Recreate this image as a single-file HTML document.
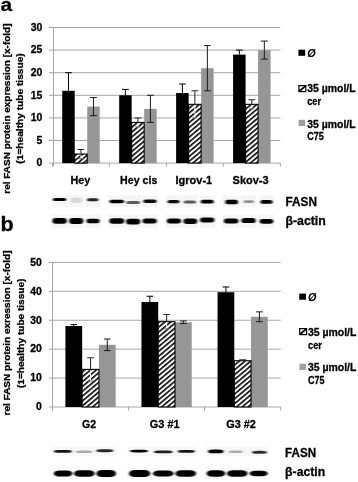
<!DOCTYPE html>
<html><head><meta charset="utf-8"><title>Figure</title>
<style>html,body{margin:0;padding:0;background:#fff}svg{display:block}text{stroke:#000;stroke-width:0.3px;stroke-linejoin:round}</style></head>
<body>
<svg width="358" height="482" viewBox="0 0 358 482" font-family="Liberation Sans, sans-serif" font-weight="bold" fill="#000">
<defs>
<pattern id="hatch" width="3.42" height="3.42" patternUnits="userSpaceOnUse" patternTransform="scale(1.19 1) rotate(-45)">
<rect width="3.42" height="3.42" fill="#fff"/><rect width="3.42" height="1.45" fill="#000"/>
</pattern>
<filter id="b1" x="-20%" y="-100%" width="140%" height="300%"><feGaussianBlur stdDeviation="0.8 0.55"/></filter>
<filter id="b2" x="-20%" y="-100%" width="140%" height="300%"><feGaussianBlur stdDeviation="0.9 0.65"/></filter>
</defs>
<rect width="358" height="482" fill="#fff"/>
<text x="0.6" y="11.2" font-size="18" text-anchor="start" textLength="11.6" lengthAdjust="spacingAndGlyphs" >a</text>
<text x="0.4" y="231.0" font-size="20" text-anchor="start" textLength="13.1" lengthAdjust="spacingAndGlyphs" >b</text>
<line x1="49.0" y1="163.10" x2="280.3" y2="163.10" stroke="#a6a6a6" stroke-width="1"/>
<text x="42.3" y="166.38" font-size="10.1" text-anchor="end" textLength="5.8" lengthAdjust="spacingAndGlyphs" >0</text>
<line x1="49.0" y1="140.50" x2="280.3" y2="140.50" stroke="#a6a6a6" stroke-width="1"/>
<text x="42.3" y="143.78" font-size="10.1" text-anchor="end" textLength="5.8" lengthAdjust="spacingAndGlyphs" >5</text>
<line x1="49.0" y1="117.90" x2="280.3" y2="117.90" stroke="#a6a6a6" stroke-width="1"/>
<text x="42.3" y="121.18" font-size="10.1" text-anchor="end" textLength="11.6" lengthAdjust="spacingAndGlyphs" >10</text>
<line x1="49.0" y1="95.30" x2="280.3" y2="95.30" stroke="#a6a6a6" stroke-width="1"/>
<text x="42.3" y="98.58" font-size="10.1" text-anchor="end" textLength="11.6" lengthAdjust="spacingAndGlyphs" >15</text>
<line x1="49.0" y1="72.70" x2="280.3" y2="72.70" stroke="#a6a6a6" stroke-width="1"/>
<text x="42.3" y="75.98" font-size="10.1" text-anchor="end" textLength="11.6" lengthAdjust="spacingAndGlyphs" >20</text>
<line x1="49.0" y1="50.10" x2="280.3" y2="50.10" stroke="#a6a6a6" stroke-width="1"/>
<text x="42.3" y="53.38" font-size="10.1" text-anchor="end" textLength="11.6" lengthAdjust="spacingAndGlyphs" >25</text>
<line x1="49.0" y1="27.50" x2="280.3" y2="27.50" stroke="#a6a6a6" stroke-width="1"/>
<text x="42.3" y="30.78" font-size="10.1" text-anchor="end" textLength="11.6" lengthAdjust="spacingAndGlyphs" >30</text>
<line x1="53.5" y1="27.5" x2="53.5" y2="166.6" stroke="#a6a6a6" stroke-width="1"/>
<line x1="52.50" y1="163.1" x2="52.50" y2="166.6" stroke="#a6a6a6" stroke-width="1"/>
<line x1="109.45" y1="163.1" x2="109.45" y2="166.6" stroke="#a6a6a6" stroke-width="1"/>
<line x1="166.40" y1="163.1" x2="166.40" y2="166.6" stroke="#a6a6a6" stroke-width="1"/>
<line x1="223.35" y1="163.1" x2="223.35" y2="166.6" stroke="#a6a6a6" stroke-width="1"/>
<line x1="280.30" y1="163.1" x2="280.30" y2="166.6" stroke="#a6a6a6" stroke-width="1"/>
<rect x="62.22" y="90.78" width="12.50" height="72.32" fill="#000"/>
<path d="M68.47 72.70V90.78M65.07 72.70H71.88" stroke="#000" stroke-width="1.0" fill="none"/>
<rect x="87.22" y="106.60" width="12.50" height="56.50" fill="#969696"/>
<path d="M93.47 97.56V115.64M90.07 97.56H96.88M90.07 115.64H96.88" stroke="#1c1c1c" stroke-width="1.0" fill="none"/>
<rect x="74.72" y="154.06" width="12.50" height="9.04" fill="url(#hatch)" stroke="#000" stroke-width="1.1"/>
<path d="M80.97 149.54V154.06M77.57 149.54H84.38" stroke="#2a2a2a" stroke-width="1.05" fill="none"/>
<path d="M80.97 154.86V158.58" stroke="#fff" stroke-width="1.0" fill="none"/>
<path d="M78.37 158.58H83.58" stroke="#777" stroke-width="1.0" fill="none"/>
<rect x="119.18" y="95.30" width="12.50" height="67.80" fill="#000"/>
<path d="M125.43 89.42V95.30M122.03 89.42H128.83" stroke="#000" stroke-width="1.0" fill="none"/>
<rect x="144.18" y="108.86" width="12.50" height="54.24" fill="#969696"/>
<path d="M150.43 95.30V122.42M147.03 95.30H153.83M147.03 122.42H153.83" stroke="#1c1c1c" stroke-width="1.0" fill="none"/>
<rect x="131.68" y="122.42" width="12.50" height="40.68" fill="url(#hatch)" stroke="#000" stroke-width="1.1"/>
<path d="M137.93 117.90V122.42M134.53 117.90H141.33" stroke="#2a2a2a" stroke-width="1.05" fill="none"/>
<path d="M137.93 123.22V126.94" stroke="#fff" stroke-width="1.0" fill="none"/>
<path d="M135.33 126.94H140.53" stroke="#777" stroke-width="1.0" fill="none"/>
<rect x="176.12" y="93.04" width="12.50" height="70.06" fill="#000"/>
<path d="M182.38 84.00V93.04M178.97 84.00H185.78" stroke="#000" stroke-width="1.0" fill="none"/>
<rect x="201.12" y="68.18" width="12.50" height="94.92" fill="#969696"/>
<path d="M207.38 45.58V90.78M203.97 45.58H210.78M203.97 90.78H210.78" stroke="#1c1c1c" stroke-width="1.0" fill="none"/>
<rect x="188.62" y="104.34" width="12.50" height="58.76" fill="url(#hatch)" stroke="#000" stroke-width="1.1"/>
<path d="M194.88 90.78V104.34M191.47 90.78H198.28" stroke="#2a2a2a" stroke-width="1.05" fill="none"/>
<path d="M194.88 105.14V117.90" stroke="#fff" stroke-width="1.0" fill="none"/>
<path d="M192.28 117.90H197.47" stroke="#777" stroke-width="1.0" fill="none"/>
<rect x="233.08" y="54.62" width="12.50" height="108.48" fill="#000"/>
<path d="M239.33 50.10V54.62M235.93 50.10H242.73" stroke="#000" stroke-width="1.0" fill="none"/>
<rect x="258.08" y="50.10" width="12.50" height="113.00" fill="#969696"/>
<path d="M264.33 41.06V59.14M260.93 41.06H267.73M260.93 59.14H267.73" stroke="#1c1c1c" stroke-width="1.0" fill="none"/>
<rect x="245.58" y="104.34" width="12.50" height="58.76" fill="url(#hatch)" stroke="#000" stroke-width="1.1"/>
<path d="M251.83 99.82V104.34M248.43 99.82H255.23" stroke="#2a2a2a" stroke-width="1.05" fill="none"/>
<path d="M251.83 105.14V108.86" stroke="#fff" stroke-width="1.0" fill="none"/>
<path d="M249.23 108.86H254.43" stroke="#777" stroke-width="1.0" fill="none"/>
<line x1="49.0" y1="407.00" x2="280.7" y2="407.00" stroke="#a6a6a6" stroke-width="1"/>
<text x="41.8" y="410.28" font-size="10.1" text-anchor="end" textLength="5.8" lengthAdjust="spacingAndGlyphs" >0</text>
<line x1="49.0" y1="378.08" x2="280.7" y2="378.08" stroke="#a6a6a6" stroke-width="1"/>
<text x="41.8" y="381.36" font-size="10.1" text-anchor="end" textLength="11.6" lengthAdjust="spacingAndGlyphs" >10</text>
<line x1="49.0" y1="349.16" x2="280.7" y2="349.16" stroke="#a6a6a6" stroke-width="1"/>
<text x="41.8" y="352.44" font-size="10.1" text-anchor="end" textLength="11.6" lengthAdjust="spacingAndGlyphs" >20</text>
<line x1="49.0" y1="320.24" x2="280.7" y2="320.24" stroke="#a6a6a6" stroke-width="1"/>
<text x="41.8" y="323.52" font-size="10.1" text-anchor="end" textLength="11.6" lengthAdjust="spacingAndGlyphs" >30</text>
<line x1="49.0" y1="291.32" x2="280.7" y2="291.32" stroke="#a6a6a6" stroke-width="1"/>
<text x="41.8" y="294.6" font-size="10.1" text-anchor="end" textLength="11.6" lengthAdjust="spacingAndGlyphs" >40</text>
<line x1="49.0" y1="262.40" x2="280.7" y2="262.40" stroke="#a6a6a6" stroke-width="1"/>
<text x="41.8" y="265.68" font-size="10.1" text-anchor="end" textLength="11.6" lengthAdjust="spacingAndGlyphs" >50</text>
<line x1="52.5" y1="262.4" x2="52.5" y2="410.5" stroke="#a6a6a6" stroke-width="1"/>
<line x1="52.50" y1="407.0" x2="52.50" y2="410.5" stroke="#a6a6a6" stroke-width="1"/>
<line x1="128.57" y1="407.0" x2="128.57" y2="410.5" stroke="#a6a6a6" stroke-width="1"/>
<line x1="204.63" y1="407.0" x2="204.63" y2="410.5" stroke="#a6a6a6" stroke-width="1"/>
<line x1="280.70" y1="407.0" x2="280.70" y2="410.5" stroke="#a6a6a6" stroke-width="1"/>
<rect x="65.41" y="326.02" width="16.75" height="80.98" fill="#000"/>
<path d="M73.78 324.58V326.02M70.38 324.58H77.18" stroke="#000" stroke-width="1.0" fill="none"/>
<rect x="98.91" y="344.82" width="16.75" height="62.18" fill="#969696"/>
<path d="M107.28 339.04V350.61M103.88 339.04H110.68M103.88 350.61H110.68" stroke="#1c1c1c" stroke-width="1.0" fill="none"/>
<rect x="82.16" y="369.40" width="16.75" height="37.60" fill="url(#hatch)" stroke="#000" stroke-width="1.1"/>
<path d="M90.53 357.84V369.40M87.13 357.84H93.93" stroke="#2a2a2a" stroke-width="1.05" fill="none"/>
<path d="M90.53 370.20V380.97" stroke="#fff" stroke-width="1.0" fill="none"/>
<path d="M87.93 380.97H93.13" stroke="#777" stroke-width="1.0" fill="none"/>
<rect x="141.47" y="302.02" width="16.75" height="104.98" fill="#000"/>
<path d="M149.85 296.24V302.02M146.45 296.24H153.25" stroke="#000" stroke-width="1.0" fill="none"/>
<rect x="174.97" y="322.26" width="16.75" height="84.74" fill="#969696"/>
<path d="M183.35 320.96V323.57M179.95 320.96H186.75M179.95 323.57H186.75" stroke="#1c1c1c" stroke-width="1.0" fill="none"/>
<rect x="158.22" y="321.69" width="16.75" height="85.31" fill="url(#hatch)" stroke="#000" stroke-width="1.1"/>
<path d="M166.60 314.46V321.69M163.20 314.46H170.00" stroke="#2a2a2a" stroke-width="1.05" fill="none"/>
<path d="M166.60 322.49V328.92" stroke="#fff" stroke-width="1.0" fill="none"/>
<path d="M164.00 328.92H169.20" stroke="#777" stroke-width="1.0" fill="none"/>
<rect x="217.54" y="292.19" width="16.75" height="114.81" fill="#000"/>
<path d="M225.92 286.98V292.19M222.52 286.98H229.32" stroke="#000" stroke-width="1.0" fill="none"/>
<rect x="251.04" y="316.77" width="16.75" height="90.23" fill="#969696"/>
<path d="M259.42 311.85V321.69M256.02 311.85H262.82M256.02 321.69H262.82" stroke="#1c1c1c" stroke-width="1.0" fill="none"/>
<rect x="234.29" y="360.73" width="16.75" height="46.27" fill="url(#hatch)" stroke="#000" stroke-width="1.1"/>
<path d="M242.67 359.86V360.73M239.27 359.86H246.07" stroke="#2a2a2a" stroke-width="1.05" fill="none"/>
<text x="70.5" y="183.9" font-size="11.7" text-anchor="start" textLength="19.9" lengthAdjust="spacingAndGlyphs" >Hey</text>
<text x="120.1" y="183.9" font-size="11.7" text-anchor="start" textLength="37.2" lengthAdjust="spacingAndGlyphs" >Hey cis</text>
<text x="175.5" y="183.9" font-size="11.7" text-anchor="start" textLength="36.7" lengthAdjust="spacingAndGlyphs" >Igrov-1</text>
<text x="232.6" y="183.9" font-size="11.7" text-anchor="start" textLength="36.0" lengthAdjust="spacingAndGlyphs" >Skov-3</text>
<text x="82" y="428.1" font-size="11.7" text-anchor="start" textLength="14.1" lengthAdjust="spacingAndGlyphs" >G2</text>
<text x="149.8" y="428.1" font-size="11.7" text-anchor="start" textLength="29.8" lengthAdjust="spacingAndGlyphs" >G3 #1</text>
<text x="226.2" y="428.1" font-size="11.7" text-anchor="start" textLength="29.6" lengthAdjust="spacingAndGlyphs" >G3 #2</text>
<text transform="translate(9.6 108.6) rotate(-90)" font-size="9.3" text-anchor="middle" textLength="170.2" lengthAdjust="spacingAndGlyphs">rel FASN protein expression [x-fold]</text>
<text transform="translate(22.6 108.5) rotate(-90)" font-size="9.3" text-anchor="middle" textLength="110.3" lengthAdjust="spacingAndGlyphs">(1=healthy tube tissue)</text>
<text transform="translate(10.1 333.0) rotate(-90)" font-size="9.3" text-anchor="middle" textLength="165.0" lengthAdjust="spacingAndGlyphs">rel FASN protein exression [x-fold]</text>
<text transform="translate(24.0 333.3) rotate(-90)" font-size="9.3" text-anchor="middle" textLength="109.4" lengthAdjust="spacingAndGlyphs">(1=healthy tube tissue)</text>
<rect x="298.4" y="49.699999999999996" width="6.8" height="6.1" fill="#000"/>
<text x="307.3" y="56.8" font-size="11.4" text-anchor="start" textLength="8.4" lengthAdjust="spacingAndGlyphs" font-style="italic" style="stroke-width:0">Ø</text>
<rect x="298.9" y="85.60000000000001" width="6.9" height="6.0" fill="#fff" stroke="#000" stroke-width="1.2"/>
<path d="M299.3 91.30000000000001L305.5 85.9" stroke="#000" stroke-width="1.8"/>
<text x="307.2" y="92.4" font-size="10.8" text-anchor="start" textLength="48.4" lengthAdjust="spacingAndGlyphs" >35 µmol/L</text>
<text x="307.2" y="105" font-size="10.8" text-anchor="start" textLength="14" lengthAdjust="spacingAndGlyphs" >cer</text>
<rect x="298.6" y="119.8" width="6.5" height="6.2" fill="#a0a0a0"/>
<text x="307.2" y="127.8" font-size="10.8" text-anchor="start" textLength="48.4" lengthAdjust="spacingAndGlyphs" >35 µmol/L</text>
<text x="307.2" y="140.3" font-size="10.8" text-anchor="start" textLength="16.6" lengthAdjust="spacingAndGlyphs" >C75</text>
<rect x="299.2" y="293.59999999999997" width="6.8" height="6.1" fill="#000"/>
<text x="308.1" y="300.6" font-size="11.4" text-anchor="start" textLength="8.4" lengthAdjust="spacingAndGlyphs" font-style="italic" style="stroke-width:0">Ø</text>
<rect x="299.7" y="328.59999999999997" width="6.9" height="6.0" fill="#fff" stroke="#000" stroke-width="1.2"/>
<path d="M300.1 334.29999999999995L306.3 328.9" stroke="#000" stroke-width="1.8"/>
<text x="308.0" y="335.6" font-size="10.8" text-anchor="start" textLength="48.4" lengthAdjust="spacingAndGlyphs" >35 µmol/L</text>
<text x="308.0" y="348.8" font-size="10.8" text-anchor="start" textLength="14" lengthAdjust="spacingAndGlyphs" >cer</text>
<rect x="299.40000000000003" y="363.7" width="6.5" height="6.2" fill="#a0a0a0"/>
<text x="308.0" y="370.6" font-size="10.8" text-anchor="start" textLength="48.4" lengthAdjust="spacingAndGlyphs" >35 µmol/L</text>
<text x="308.0" y="384.3" font-size="10.8" text-anchor="start" textLength="16.6" lengthAdjust="spacingAndGlyphs" >C75</text>
<rect x="51.6" y="195.3" width="15.999999999999993" height="12.0" fill="#f5f5f5"/>
<rect x="51.6" y="214.8" width="15.999999999999993" height="12.799999999999983" fill="#f5f5f5"/>
<rect x="68.4" y="195.3" width="15.699999999999989" height="12.0" fill="#f5f5f5"/>
<rect x="68.4" y="214.8" width="15.699999999999989" height="12.799999999999983" fill="#f5f5f5"/>
<rect x="85.7" y="195.3" width="14.699999999999989" height="12.0" fill="#f5f5f5"/>
<rect x="85.7" y="214.8" width="14.699999999999989" height="12.799999999999983" fill="#f5f5f5"/>
<rect x="108.5" y="195.3" width="16.5" height="12.0" fill="#f5f5f5"/>
<rect x="108.5" y="214.8" width="16.5" height="12.799999999999983" fill="#f5f5f5"/>
<rect x="125.3" y="195.3" width="15.700000000000003" height="12.0" fill="#f5f5f5"/>
<rect x="125.3" y="214.8" width="15.700000000000003" height="12.799999999999983" fill="#f5f5f5"/>
<rect x="141.7" y="195.3" width="15.900000000000034" height="12.0" fill="#f5f5f5"/>
<rect x="141.7" y="214.8" width="15.900000000000034" height="12.799999999999983" fill="#f5f5f5"/>
<rect x="166.0" y="195.3" width="15.900000000000006" height="12.0" fill="#f5f5f5"/>
<rect x="166.0" y="214.8" width="15.900000000000006" height="12.799999999999983" fill="#f5f5f5"/>
<rect x="182.7" y="195.3" width="15.300000000000011" height="12.0" fill="#f5f5f5"/>
<rect x="182.7" y="214.8" width="15.300000000000011" height="12.799999999999983" fill="#f5f5f5"/>
<rect x="199.2" y="195.3" width="16.00000000000003" height="12.0" fill="#f5f5f5"/>
<rect x="199.2" y="214.8" width="16.00000000000003" height="12.799999999999983" fill="#f5f5f5"/>
<rect x="223.0" y="195.3" width="16.30000000000001" height="12.0" fill="#f5f5f5"/>
<rect x="223.0" y="214.8" width="16.30000000000001" height="12.799999999999983" fill="#f5f5f5"/>
<rect x="240.6" y="195.3" width="15.900000000000006" height="12.0" fill="#f5f5f5"/>
<rect x="240.6" y="214.8" width="15.900000000000006" height="12.799999999999983" fill="#f5f5f5"/>
<rect x="258.8" y="195.3" width="15.300000000000011" height="12.0" fill="#f5f5f5"/>
<rect x="258.8" y="214.8" width="15.300000000000011" height="12.799999999999983" fill="#f5f5f5"/>
<rect x="52.7" y="198.00" width="13.7" height="3.0" rx="2.60" ry="1.50" fill="#000" opacity="1" filter="url(#b1)"/>
<rect x="70.9" y="197.80" width="10.9" height="5" rx="2.60" ry="2.50" fill="#000" opacity="0.12" filter="url(#b1)"/>
<rect x="86.8" y="198.30" width="11.8" height="3.0" rx="2.60" ry="1.50" fill="#000" opacity="0.85" filter="url(#b1)"/>
<rect x="109.3" y="199.70" width="14.9" height="3.6" rx="2.60" ry="1.80" fill="#000" opacity="1" filter="url(#b1)"/>
<rect x="126.1" y="200.90" width="14.1" height="3.0" rx="2.60" ry="1.50" fill="#000" opacity="0.62" filter="url(#b1)"/>
<rect x="143.1" y="199.60" width="13.7" height="3.4" rx="2.60" ry="1.70" fill="#000" opacity="0.95" filter="url(#b1)"/>
<rect x="167.4" y="200.10" width="12.2" height="3.2" rx="2.60" ry="1.60" fill="#000" opacity="0.95" filter="url(#b1)"/>
<rect x="183.5" y="200.40" width="12.7" height="3.0" rx="2.60" ry="1.50" fill="#000" opacity="0.62" filter="url(#b1)"/>
<rect x="200.7" y="199.80" width="13.1" height="3.8" rx="2.60" ry="1.90" fill="#000" opacity="1" filter="url(#b1)"/>
<rect x="225.2" y="199.80" width="12.9" height="4.4" rx="2.60" ry="2.20" fill="#000" opacity="1" filter="url(#b1)"/>
<rect x="243.4" y="200.30" width="10.7" height="2.8" rx="2.60" ry="1.40" fill="#000" opacity="0.4" filter="url(#b1)"/>
<rect x="260.4" y="200.00" width="12.3" height="3.8" rx="2.60" ry="1.90" fill="#000" opacity="1" filter="url(#b1)"/>
<rect x="52.4" y="217.90" width="14.4" height="5.8" rx="3.20" ry="2.90" fill="#000" opacity="1" filter="url(#b2)"/>
<rect x="69.2" y="218.00" width="14.1" height="6.0" rx="3.20" ry="3.00" fill="#000" opacity="1" filter="url(#b2)"/>
<rect x="86.5" y="218.70" width="13.1" height="4.6" rx="3.20" ry="2.30" fill="#000" opacity="1" filter="url(#b2)"/>
<rect x="109.3" y="218.20" width="14.9" height="5.6" rx="3.20" ry="2.80" fill="#000" opacity="1" filter="url(#b2)"/>
<rect x="126.1" y="218.70" width="14.1" height="5.8" rx="3.20" ry="2.90" fill="#000" opacity="1" filter="url(#b2)"/>
<rect x="142.5" y="218.50" width="14.3" height="5.0" rx="3.20" ry="2.50" fill="#000" opacity="1" filter="url(#b2)"/>
<rect x="166.8" y="218.50" width="14.3" height="5" rx="3.20" ry="2.50" fill="#000" opacity="1" filter="url(#b2)"/>
<rect x="183.5" y="218.60" width="13.7" height="5.4" rx="3.20" ry="2.70" fill="#000" opacity="1" filter="url(#b2)"/>
<rect x="200.0" y="217.60" width="14.4" height="5" rx="3.20" ry="2.50" fill="#000" opacity="1" filter="url(#b2)"/>
<rect x="223.8" y="218.50" width="14.7" height="5" rx="3.20" ry="2.50" fill="#000" opacity="1" filter="url(#b2)"/>
<rect x="241.4" y="217.90" width="14.3" height="5.2" rx="3.20" ry="2.60" fill="#000" opacity="1" filter="url(#b2)"/>
<rect x="259.6" y="218.90" width="13.7" height="4.8" rx="3.20" ry="2.40" fill="#000" opacity="1" filter="url(#b2)"/>
<text x="285.5" y="205.7" font-size="12.4" text-anchor="start" textLength="31.4" lengthAdjust="spacingAndGlyphs" >FASN</text>
<text x="285.5" y="224.5" font-size="12.4" text-anchor="start" textLength="40.3" lengthAdjust="spacingAndGlyphs" >β-actin</text>
<rect x="52.5" y="446.8" width="63.5" height="9.599999999999966" fill="#f7f7f7"/>
<rect x="52.5" y="467.5" width="63.5" height="12.0" fill="#f9f9f9"/>
<rect x="127.5" y="446.8" width="69.5" height="9.599999999999966" fill="#f7f7f7"/>
<rect x="127.5" y="467.5" width="69.5" height="12.0" fill="#f9f9f9"/>
<rect x="205.5" y="446.8" width="63.0" height="9.599999999999966" fill="#f7f7f7"/>
<rect x="205.5" y="467.5" width="63.0" height="12.0" fill="#f9f9f9"/>
<rect x="53.9" y="449.95" width="17.9" height="2.9" rx="5.50" ry="1.45" fill="#000" opacity="0.92" filter="url(#b1)"/>
<rect x="75.5" y="450.40" width="17.1" height="2.6" rx="5.50" ry="1.30" fill="#000" opacity="0.3" filter="url(#b1)"/>
<rect x="96.4" y="449.35" width="16.8" height="2.9" rx="5.50" ry="1.45" fill="#000" opacity="0.85" filter="url(#b1)"/>
<rect x="130.0" y="449.65" width="17.9" height="2.9" rx="5.50" ry="1.45" fill="#000" opacity="1" filter="url(#b1)"/>
<rect x="154.0" y="450.45" width="18.5" height="2.9" rx="5.50" ry="1.45" fill="#000" opacity="0.88" filter="url(#b1)"/>
<rect x="177.7" y="450.00" width="17.2" height="2.8" rx="5.50" ry="1.40" fill="#000" opacity="0.92" filter="url(#b1)"/>
<rect x="208.0" y="449.50" width="15.6" height="3.8" rx="5.50" ry="1.90" fill="#000" opacity="1" filter="url(#b1)"/>
<rect x="228.5" y="450.50" width="14.5" height="2.6" rx="5.50" ry="1.30" fill="#000" opacity="0.3" filter="url(#b1)"/>
<rect x="252.0" y="450.75" width="15.0" height="3.1" rx="5.50" ry="1.55" fill="#000" opacity="0.82" filter="url(#b1)"/>
<rect x="53.9" y="470.40" width="18.4" height="6.2" rx="5.50" ry="3.10" fill="#000" opacity="1" filter="url(#b2)"/>
<rect x="74.0" y="470.30" width="20.6" height="6.4" rx="5.50" ry="3.20" fill="#000" opacity="1" filter="url(#b2)"/>
<rect x="96.4" y="469.90" width="19.6" height="7.2" rx="5.50" ry="3.60" fill="#000" opacity="1" filter="url(#b2)"/>
<rect x="129.0" y="469.90" width="21.2" height="7.2" rx="5.50" ry="3.60" fill="#000" opacity="1" filter="url(#b2)"/>
<rect x="153.0" y="470.50" width="20.6" height="6.0" rx="5.50" ry="3.00" fill="#000" opacity="1" filter="url(#b2)"/>
<rect x="175.4" y="470.20" width="20.6" height="6.6" rx="5.50" ry="3.30" fill="#000" opacity="1" filter="url(#b2)"/>
<rect x="206.6" y="470.20" width="18.6" height="6.6" rx="5.50" ry="3.30" fill="#000" opacity="1" filter="url(#b2)"/>
<rect x="227.0" y="470.30" width="20.5" height="6.4" rx="5.50" ry="3.20" fill="#000" opacity="1" filter="url(#b2)"/>
<rect x="249.7" y="470.80" width="17.9" height="5.4" rx="5.50" ry="2.70" fill="#000" opacity="1" filter="url(#b2)"/>
<text x="285.1" y="457.4" font-size="12.4" text-anchor="start" textLength="31" lengthAdjust="spacingAndGlyphs" >FASN</text>
<text x="285.1" y="476.2" font-size="12.4" text-anchor="start" textLength="40.1" lengthAdjust="spacingAndGlyphs" >β-actin</text>
</svg>
</body></html>
